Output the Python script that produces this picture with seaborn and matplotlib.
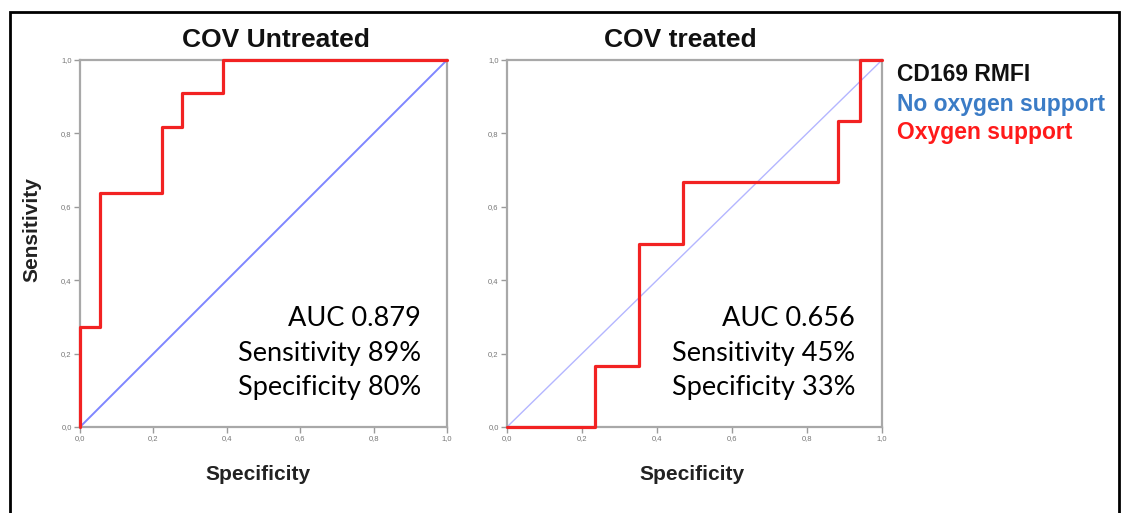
import matplotlib
matplotlib.use("Agg")
import matplotlib.pyplot as plt
from matplotlib.patches import Rectangle
import seaborn as sns
import pandas as pd

# ROC corner points (1 - specificity, sensitivity)
untreated_fpr = [0.0, 0.0, 1/18, 4/18, 5/18, 7/18, 1.0]
untreated_tpr = [0.0, 3/11, 7/11, 9/11, 10/11, 1.0, 1.0]
treated_fpr = [0.0, 4/17, 6/17, 8/17, 15/17, 16/17, 1.0]
treated_tpr = [0.0, 1/6, 3/6, 4/6, 5/6, 1.0, 1.0]
reference_line = [0.0, 1.0]

panel_titles = ["COV Untreated", "COV treated"]
stats_untreated = ["AUC 0.879", "Sensitivity 89%", "Specificity 80%"]
stats_treated = ["AUC 0.656", "Sensitivity 45%", "Specificity 33%"]
tick_values = [0.0, 0.2, 0.4, 0.6, 0.8, 1.0]
tick_labels = ["0,0", "0,2", "0,4", "0,6", "0,8", "1,0"]
legend_title = "CD169 RMFI"
legend_entries = ["No oxygen support", "Oxygen support"]

sns.set_theme(style="white")
plt.rcParams["font.family"] = ["Liberation Sans", "DejaVu Sans"]

W, H = 1121, 513
fig = plt.figure(figsize=(W / 100, H / 100), dpi=100)
fig.patch.set_facecolor("white")


def fx(x):
    return x / W


def fy(y):
    return 1 - y / H


# outer black frame (open at the bottom edge)
fig.add_artist(Rectangle((fx(10), fy(540)), fx(1119) - fx(10), fy(12) - fy(540),
                         transform=fig.transFigure, fill=False,
                         edgecolor="black", linewidth=2.0, clip_on=False))

RED = "#f22222"
GREY = "#9a9a9a"

panels = [
    dict(box=(80, 60, 447, 427), fpr=untreated_fpr, tpr=untreated_tpr,
         diag_color="#7f86ff", diag_lw=1.4, title=panel_titles[0], title_x=276,
         xlabel_x=258, stats=stats_untreated, stats_x=421),
    dict(box=(507, 60, 882, 427), fpr=treated_fpr, tpr=treated_tpr,
         diag_color="#b4b6ff", diag_lw=1.0, title=panel_titles[1], title_x=680,
         xlabel_x=692, stats=stats_treated, stats_x=855),
]

for p in panels:
    x0, y0, x1, y1 = p["box"]
    ax = fig.add_axes([fx(x0), fy(y1), fx(x1) - fx(x0), fy(y0) - fy(y1)])
    ax.set_facecolor("white")
    diag = pd.DataFrame({"x": reference_line, "y": reference_line})
    sns.lineplot(data=diag, x="x", y="y", ax=ax, color=p["diag_color"],
                 linewidth=p["diag_lw"], estimator=None, sort=False, zorder=2)
    roc = pd.DataFrame({"fpr": p["fpr"], "tpr": p["tpr"]})
    sns.lineplot(data=roc, x="fpr", y="tpr", ax=ax, color=RED, linewidth=2.3,
                 estimator=None, sort=False, drawstyle="steps-post", zorder=3,
                 clip_on=False)
    ax.set_xlim(0, 1)
    ax.set_ylim(0, 1)
    ax.set_xticks(tick_values)
    ax.set_yticks(tick_values)
    ax.set_xticklabels(tick_labels)
    ax.set_yticklabels(tick_labels)
    ax.tick_params(axis="both", which="both", length=4, width=1.0, color=GREY,
                   labelsize=5.5, labelcolor="#777777", pad=2,
                   bottom=True, left=True, direction="out")
    ax.set_xlabel("")
    ax.set_ylabel("")
    for s in ax.spines.values():
        s.set_color("#a8a8a8")
        s.set_linewidth(1.6)
    ax.grid(False)

    fig.text(fx(p["title_x"]), fy(40), p["title"], ha="center", va="center",
             fontsize=19, fontweight="bold", color="#111111")
    fig.text(fx(p["xlabel_x"]), fy(475), "Specificity", ha="center", va="center",
             fontsize=15, fontweight="bold", color="#222222")
    for i, line in enumerate(p["stats"]):
        fig.text(fx(p["stats_x"]), fy(318 + 35 * i), line, ha="right", va="center",
                 fontsize=19.5, color="black", family=["Lato", "DejaVu Sans"])

fig.text(fx(32), fy(230), "Sensitivity", ha="center", va="center", rotation=90,
         fontsize=15, fontweight="bold", color="#222222")

legend_size = 16.5
fig.text(fx(897), fy(75), legend_title, ha="left", va="center", fontsize=legend_size,
         fontweight="bold", color="#111111")
fig.text(fx(897), fy(105), legend_entries[0], ha="left", va="center", fontsize=legend_size,
         fontweight="bold", color="#3b7cc6")
fig.text(fx(897), fy(133), legend_entries[1], ha="left", va="center", fontsize=legend_size,
         fontweight="bold", color="#ff1a1a")

fig.savefig("out.png", dpi=100, facecolor="white")
